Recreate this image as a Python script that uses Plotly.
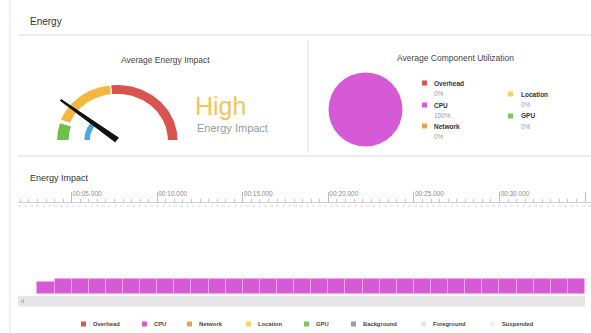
import numpy as np
import plotly.graph_objects as go

W, H = 591, 333
def px(x): return x / W
def py(y): return 1 - y / H

FONT = "Liberation Sans, Arial, sans-serif"

# ---------------- data ----------------
components = ["Overhead", "CPU", "Network", "Location", "GPU"]
component_colors = ["#d9534f", "#d65ad6", "#eca244", "#f2d468", "#80c45c"]
component_share = [0, 100, 0, 0, 0]

states = ["Background", "Foreground", "Suspended"]
state_colors = ["#9c9c9c", "#e6e6e8", "#f0f0f0"]

# gauge zones: (start angle, end angle, inner radius, outer radius) in gauge units
gauge_zones = ["Very High", "High", "Low", "Average"]
gauge_colors = ["#d9534f", "#f1b73e", "#6cc04a", "#4aa7e0"]
zone_theta_start = [0, 97, 162, 143]
zone_theta_end = [95.5, 158, 180, 180]
zone_r_inner = [0.84, 0.84, 0.80, 0.45]
zone_r_outer = [1.0, 1.0, 0.99, 0.54]
needle_angle = 142
needle_length = 1.18
energy_level = "High"

# energy impact timeline (1 s buckets)
bar_start_s = [3, 4, 5, 6, 7, 8, 9, 10, 11, 12, 13, 14, 15, 16, 17, 18,
               19, 20, 21, 22, 23, 24, 25, 26, 27, 28, 29, 30, 31, 32, 33, 34]
cpu_impact = [2.6, 3.35, 3.35, 3.35, 3.35, 3.35, 3.35, 3.35, 3.35, 3.35, 3.35,
              3.35, 3.35, 3.35, 3.35, 3.35, 3.35, 3.35, 3.35, 3.35, 3.35, 3.35,
              3.35, 3.35, 3.35, 3.35, 3.35, 3.35, 3.35, 3.35, 3.35, 3.35]
state_start_s = [0]
state_end_s = [35]
state_name = ["Foreground"]
tick_seconds = [0, 5, 10, 15, 20, 25, 30, 35]
tick_labels = ["00:00.000", "00:05.000", "00:10.000", "00:15.000",
               "00:20.000", "00:25.000", "00:30.000", "00:35.000"]

fig = go.Figure()

# ---------------- gauge (cartesian, x2/y2) ----------------
for name, col, t0, t1, ri, ro in zip(gauge_zones, gauge_colors, zone_theta_start,
                                      zone_theta_end, zone_r_inner, zone_r_outer):
    th = np.radians(np.linspace(t0, t1, 60))
    xs = np.concatenate([ro * np.cos(th), ri * np.cos(th[::-1])])
    ys = np.concatenate([ro * np.sin(th), ri * np.sin(th[::-1])])
    fig.add_trace(go.Scatter(x=xs, y=ys, fill="toself", fillcolor=col, mode="lines",
                             line=dict(width=0, color=col), name=name,
                             xaxis="x2", yaxis="y2", showlegend=False, hoverinfo="name"))

a = np.radians(needle_angle)
perp = a + np.pi / 2
w_base, w_tip = 0.045, 0.012
nx = [w_base * np.cos(perp), needle_length * np.cos(a) + w_tip * np.cos(perp),
      needle_length * np.cos(a) - w_tip * np.cos(perp), -w_base * np.cos(perp)]
ny = [w_base * np.sin(perp), needle_length * np.sin(a) + w_tip * np.sin(perp),
      needle_length * np.sin(a) - w_tip * np.sin(perp), -w_base * np.sin(perp)]
fig.add_trace(go.Scatter(x=nx, y=ny, fill="toself", fillcolor="#111", mode="lines",
                         line=dict(width=1, color="#111"), xaxis="x2", yaxis="y2",
                         showlegend=False, hoverinfo="skip"))

# ---------------- pie ----------------
fig.add_trace(go.Pie(labels=components, values=component_share,
                     marker=dict(colors=component_colors, line=dict(width=0)),
                     textinfo="none", sort=False, showlegend=False,
                     domain=dict(x=[px(328.5), px(402.5)], y=[py(146.5), py(72.5)])))

# ---------------- timeline bars ----------------
fig.add_trace(go.Bar(x=[s + 0.5 for s in bar_start_s], y=cpu_impact, width=1,
                     marker=dict(color=component_colors[1],
                                 line=dict(color="#f2a9f2", width=1)),
                     name="CPU", showlegend=False, xaxis="x", yaxis="y"))
fig.add_trace(go.Bar(x=[(s + e) / 2 for s, e in zip(state_start_s, state_end_s)],
                     width=[e - s for s, e in zip(state_start_s, state_end_s)],
                     y=[1], marker=dict(color=state_colors[1], line=dict(width=0)),
                     name=state_name[0], showlegend=False, xaxis="x", yaxis="y3"))

t_left = (18 + 13.85) / 17.11
t_right = (591 + 13.85) / 17.11

annotations = []
shapes = []

def txt(x, y, s, size, color, anchor="left", bold=False):
    annotations.append(dict(x=px(x), y=py(y), xref="paper", yref="paper", text=(f"<b>{s}</b>" if bold else s),
                            showarrow=False, xanchor=anchor, yanchor="middle",
                            font=dict(size=size, color=color, family=FONT)))

def line(x0, y0, x1, y1, color="#dedede", width=1, dash=None):
    shapes.append(dict(type="line", xref="paper", yref="paper", x0=px(x0), y0=py(y0),
                       x1=px(x1), y1=py(y1), line=dict(color=color, width=width, dash=dash)))

def square(x, y, color, s=5):
    shapes.append(dict(type="rect", xref="paper", yref="paper", x0=px(x), x1=px(x + s),
                       y0=py(y + s / 2), y1=py(y - s / 2), line=dict(width=0), fillcolor=color))

# frame lines
line(10, 0, 10, 333, "#e4e4e4")
line(18, 35, 591, 35, "#dcdcdc")
line(18, 156, 591, 156, "#dcdcdc")
line(308, 40, 308, 153, "#e0e0e0")
line(18, 206, 591, 206, "#d8d8d8", 1, "dot")

# headings
txt(28, 22, "Energy", 10, "#333")
txt(165, 60, "Average Energy Impact", 8.5, "#444", "center")
txt(193, 106, energy_level, 25, "#f4c35c")
txt(195, 128, "Energy Impact", 11, "#999")
txt(455, 58, "Average Component Utilization", 8.5, "#444", "center")
txt(28, 178, "Energy Impact", 9, "#333")
txt(19, 301, "ıl", 6, "#777")

# pie legend
pie_leg_pos = [(422, 83), (422, 105), (422, 126), (508, 94), (508, 116)]
for (x, y), name, col, v in zip(pie_leg_pos, components, component_colors, component_share):
    tx = 432 if x < 500 else 519
    square(x, y, col, 5)
    txt(tx, y, name, 6.5, "#333", bold=True)
    txt(tx, y + 10.5, f"{v}%", 6.5, "#999")

# bottom legend
legend_names = components + states
legend_colors = component_colors + state_colors
legend_sq_x = [81, 142, 187, 246, 304, 351, 421, 490]
for name, col, x in zip(legend_names, legend_colors, legend_sq_x):
    square(x, 324, col, 5)
    txt(x + 10, 324, name, 5.8, "#444", bold=True)

fig.update_layout(
    width=W, height=H, margin=dict(l=0, r=0, t=0, b=0),
    paper_bgcolor="white", plot_bgcolor="white",
    bargap=0, barmode="overlay",
    annotations=annotations, shapes=shapes,
    xaxis=dict(domain=[px(18), 1], range=[t_left, t_right], side="top",
               tickvals=tick_seconds, ticktext=tick_labels, ticks="outside",
               ticklen=10, tickcolor="#bdbdbd", tickwidth=1,
               ticklabelposition="outside right", ticklabelstandoff=3,
               tickfont=dict(size=6.5, color="#8a8a8a", family=FONT),
               minor=dict(dtick=0.5, tick0=0, ticks="outside", ticklen=3, tickcolor="#c4c4c4"),
               showline=True, linecolor="#d0d0d0", showgrid=False, zeroline=False,
               fixedrange=True, anchor="y"),
    yaxis=dict(domain=[py(294.3), py(203)], range=[0, 20], visible=False, anchor="x"),
    yaxis3=dict(domain=[py(306.5), py(296)], range=[0, 1], visible=False, anchor="x"),
    xaxis2=dict(domain=[px(41.4), px(192.6)], range=[-1.25, 1.25], visible=False, anchor="y2"),
    yaxis2=dict(domain=[py(145.5), py(71.25)], range=[-0.1, 1.25], visible=False, anchor="x2"),
)

fig.write_html("out.html")
